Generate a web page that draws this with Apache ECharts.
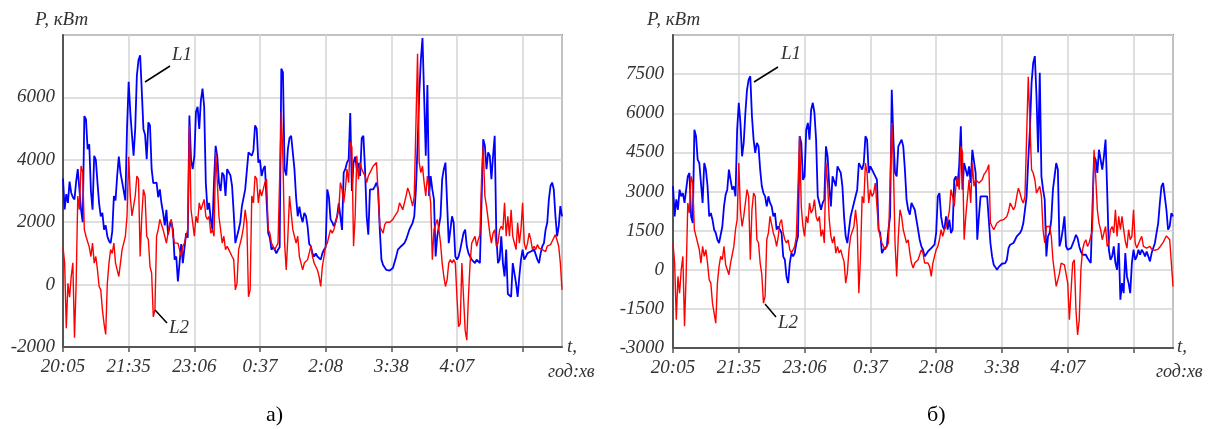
<!DOCTYPE html>
<html>
<head>
<meta charset="utf-8">
<script src="https://cdn.jsdelivr.net/npm/echarts@6/dist/echarts.min.js"></script>
<style>
  html, body { margin: 0; padding: 0; background: #fff; }
  #chart { width: 1214px; height: 429px; }
</style>
</head>
<body>
<div id="chart"></div>
<script>
// x: одна клітинка сітки = 1, крок вибірки 0.025
const STEP = 0.025;
const timeLabels = ['20:05', '21:35', '23:06', '0:37', '2:08', '3:38', '4:07', ''];

// графік а)
const L1a = [3400,2408,2900,2620,3300,2945,2800,2730,3300,3700,
  3700,2400,2000,5400,5300,4340,4500,3000,2400,4130,
  4000,3270,2600,2190,2300,1760,1900,1550,1400,1330,
  1700,2840,2700,3480,4100,3590,3300,3270,2700,4990,
  6500,5530,4800,4130,5000,6700,7200,7350,6200,4990,
  4800,4020,5200,5100,3700,3250,3300,3270,2800,3050,
  2600,2300,1900,2400,1600,1870,2000,1760,800,900,
  100,690,1300,690,700,1650,1500,5420,4000,3700,
  4100,5530,5700,4990,5900,6280,5700,3270,2400,2620,
  2100,1760,3300,4450,4100,3270,3000,3590,3500,2840,
  3700,3700,3500,3160,2300,1330,1300,1760,2000,2515,
  2500,3050,3000,4240,4200,4130,4300,5100,5000,3910,
  4000,3480,3700,3800,3800,1650,1500,1120,1200,1120,
  1000,1120,1200,6920,6800,3700,3500,4340,4700,4770,
  4800,3700,2800,2190,2500,2190,2000,2300,2200,1870,
  1300,1230,1000,900,1000,900,900,800,1000,1120,
  1200,3050,2800,2090,2000,1870,2000,2190,2600,2190,
  1750,3590,3700,3910,4000,5500,3000,3910,4100,3700,
  3900,3480,4700,4770,3700,2190,1600,3050,3050,3050,
  3150,3270,3050,1760,800,630,580,470,420,450,
  470,530,580,900,1120,1170,1230,1280,1330,1440,
  1500,1760,1870,1980,2190,3050,4450,6060,7200,7900,
  6060,4130,6400,2840,3480,3050,2730,900,1550,1550,
  2190,3380,3700,3910,3900,1330,1330,2190,1980,900,
  800,900,1120,1120,1650,1760,1230,1010,900,800,
  800,690,800,850,690,690,4660,4450,3700,4240,
  4130,3380,4130,4770,1550,690,800,1550,690,260,
  1120,-300,-280,-390,690,370,40,-390,260,800,
  1120,800,900,1010,1010,1060,1010,1120,1120,800,
  690,1010,1230,1330,1760,1980,2730,3160,3270,3050,
  2190,1550,1870,2515,2190];
const L2a = [1200,690,-1400,40,-400,260,700,-1700,0,2840,
  2400,3800,3600,1760,1550,1550,1200,900,1330,690,
  900,470,-60,-170,-800,-1250,-1600,40,690,1120,
  1000,1330,690,470,260,690,1120,1330,1550,2190,
  4100,2840,2200,2515,2840,3480,3380,900,2200,3050,
  2840,1550,1440,580,370,-1030,-820,1550,1760,2090,
  2140,1760,1550,1330,1650,1980,2090,1550,1330,1330,
  1330,1120,900,1230,1330,1550,1760,5100,2400,1980,
  1550,2190,1980,2620,2400,2400,2730,2190,2090,2190,
  1650,1760,1550,4240,3300,2190,1760,1330,1550,1120,
  1230,1120,1120,900,800,-170,40,1120,1330,1550,
  1870,2400,1980,-390,-170,2840,2620,3480,3380,2620,
  3050,2840,3050,3270,3380,1760,1650,1330,1330,1120,
  1230,1330,1330,5530,4000,1330,470,1550,2840,2300,
  1760,1550,1330,1550,900,690,470,690,690,800,
  1010,1230,900,690,700,470,260,-60,580,900,
  1230,1330,1550,1760,1650,1760,1980,2190,2400,3270,
  3050,2620,3050,3700,3270,4560,4400,1230,2200,4130,
  3380,3910,3700,3590,3480,3270,3480,3590,3640,3800,
  3800,3910,3970,1870,1760,1650,1920,2000,2000,2000,
  2060,2090,2190,2190,2350,2620,2515,2400,2400,2840,
  3100,2950,2730,2515,2840,2840,7400,3910,3590,3800,
  3270,2840,3480,3050,2620,800,1760,1760,2090,1760,
  1330,690,260,-60,150,690,800,690,800,690,
  -390,-1350,-1250,690,690,-1460,-1780,-390,690,1330,
  1440,1550,1230,1440,1600,3380,4450,2840,2515,2090,
  1650,1330,1650,1760,1230,1330,1760,1870,1760,2620,
  1550,2190,1550,2400,1550,1330,1120,1980,1330,1760,
  2620,1330,1120,1330,1650,1440,1120,1230,1120,1280,
  1170,1230,1120,1060,1060,1230,1170,1280,1390,1500,
  1600,1600,1230,690,-170];

// графік б)
const L1b = [3200,2045,2700,2300,3070,2815,2940,2560,3070,3580,
  3710,2045,1790,5370,5120,4220,4090,4090,2560,4090,
  3840,3200,2045,2175,1920,1535,1410,1150,1025,1025,
  1660,2430,2880,3070,3840,3450,3070,3200,2815,5370,
  6400,5630,4350,4860,6010,6900,7290,7420,5885,4990,
  4480,4860,4730,3840,3200,2940,2815,2430,2815,2560,
  2430,2045,2175,1535,1660,1535,1410,512,384,-256,
  -512,256,640,512,640,1025,1280,5120,4860,3450,
  3580,5370,5630,4990,6140,6400,6010,4990,2815,2560,
  2300,2560,2690,4730,4350,3200,2430,3580,3580,3200,
  3965,3840,3710,3200,2045,1280,1025,1535,2045,2300,
  2560,2815,3070,4090,4030,3840,4090,5120,4990,3710,
  3965,3840,3840,3580,3450,1535,1410,640,767,767,
  895,1535,2045,6900,5000,3710,3580,4730,4800,4990,
  4730,3840,2690,2300,2110,2560,2430,2300,2370,1535,
  1150,895,767,512,600,700,767,830,895,960,
  1410,2815,2940,2045,1660,1535,2045,1535,1920,1410,
  1535,3450,3580,3200,4000,5500,3070,4090,4160,3580,
  3965,3325,4600,4600,3710,1150,2045,2815,2750,2815,
  2880,2815,2750,1025,512,190,100,0,100,64,
  230,190,256,384,830,960,920,1025,1150,1280,
  1280,1410,1535,1790,1790,2815,4220,5370,7160,7930,
  8190,6650,4500,7550,3580,3070,2690,512,1280,1410,
  1920,3070,3580,4090,3840,895,1150,1535,2045,895,
  767,830,830,895,1150,1340,1215,895,700,575,
  575,575,450,450,256,190,4350,4220,3710,4600,
  4600,3840,4350,4990,3000,767,384,512,895,256,
  0,1025,-1150,-512,-900,640,-256,-512,-900,256,
  767,384,512,767,575,767,665,512,700,512,
  320,640,700,1025,1410,1790,2560,3200,3325,2815,
  2300,1535,1660,2175,2045];
const L2b = [1025,256,-1920,-256,-900,0,512,-2170,-200,2560,
  2175,3580,3325,1535,1280,1025,767,256,895,512,
  767,256,-384,-512,-1280,-1660,-2050,-512,128,512,
  384,895,190,0,-190,256,575,895,1535,1920,
  4090,2300,1660,2045,2560,3070,2815,384,2300,2940,
  2815,1150,1025,256,-190,-1280,-1023,1150,1410,2045,
  1980,1410,1215,895,1280,1790,1920,1410,1150,1025,
  1150,767,640,767,895,1280,1280,5120,2400,1660,
  1280,2045,1790,2560,2175,2300,2690,2045,1855,2045,
  1280,1535,1025,4090,3325,1920,1280,1025,1280,640,
  895,640,767,512,320,-512,-128,767,1280,1280,
  1660,2300,1660,-900,500,2815,2560,4090,3710,2560,
  3070,2815,2940,3325,3325,1535,1470,1025,1090,767,
  830,1025,1025,5630,4000,1025,-256,1280,2300,2045,
  1535,1280,1025,1150,640,256,64,256,190,384,
  450,767,640,256,320,256,128,-256,256,512,
  767,895,1150,1535,1280,1535,1660,1920,2240,3070,
  2815,2430,3200,3580,3070,4730,4500,1150,2045,2045,
  3450,2560,4090,3200,3450,3520,3325,3260,3450,3645,
  3735,3840,4030,1790,1660,1535,1600,1790,1820,1890,
  1920,1920,1980,2045,2240,2560,2430,2300,2430,2815,
  3130,2940,2690,2560,2815,2815,7400,5630,3840,3710,
  3450,2940,3070,3200,2815,1535,1025,1660,1660,1660,
  1280,384,-128,-640,-700,-128,256,256,190,256,
  -512,-1920,-1920,256,384,-1535,-2500,-1920,0,767,
  1025,1150,895,1025,1280,1535,4600,3580,2300,1790,
  1535,1150,1150,1660,895,1025,1535,1660,1410,2300,
  1280,2045,1535,2045,1535,1090,830,1535,1150,1280,
  2300,1025,830,895,1150,1280,895,830,830,830,
  895,790,830,740,665,790,870,830,1050,1180,
  1300,1300,1150,256,-640];

const toPairs = arr => arr.map((v, i) => [+(i * STEP).toFixed(3), v]);

const FONT = 'Liberation Serif';
const TXT = '#333';

const grids = [
  { left: 63, top: 35, width: 499, height: 312 },
  { left: 673, top: 35, width: 500, height: 313 }
];

const xAxisFor = idx => ({
  type: 'value', gridIndex: idx, min: 0, max: 7.6, interval: 1,
  axisLine: { show: true, onZero: false, lineStyle: { color: '#555', width: 2 } },
  axisTick: { show: true, length: 5, lineStyle: { color: '#555', width: 1.5 } },
  splitLine: { show: true, lineStyle: { color: '#d4d4d4', width: 1.5 } },
  axisLabel: {
    showMaxLabel: false, margin: 10,
    fontFamily: FONT, fontStyle: 'italic', fontSize: 19, color: TXT,
    formatter: v => timeLabels[Math.round(v)] || ''
  }
});

const yAxisFor = (idx, min, max, interval, margin) => ({
  type: 'value', gridIndex: idx, min: min, max: max, interval: interval,
  axisLine: { show: true, onZero: false, lineStyle: { color: '#555', width: 2 } },
  axisTick: { show: false },
  splitLine: { show: true, lineStyle: { color: '#d4d4d4', width: 1.5 } },
  axisLabel: {
    showMaxLabel: false, margin: margin,
    fontFamily: FONT, fontStyle: 'italic', fontSize: 19, color: TXT,
    formatter: v => String(v)
  }
});

const lineSeries = (data, idx, color, width, z) => ({
  type: 'line', xAxisIndex: idx, yAxisIndex: idx, data: toPairs(data),
  showSymbol: false, symbol: 'none', animation: false, z: z,
  lineStyle: { color: color, width: width }
});

const italic = (text, x, y, size) => ({
  type: 'text', left: x, top: y, z: 100,
  style: { text: text, fontFamily: FONT, fontStyle: 'italic', fontSize: size, fill: TXT }
});
const plain = (text, x, y, size) => ({
  type: 'text', left: x, top: y, z: 100,
  style: { text: text, fontFamily: FONT, fontSize: size, fill: '#000' }
});
const leader = (x1, y1, x2, y2) => ({
  type: 'line', z: 100,
  shape: { x1: x1, y1: y1, x2: x2, y2: y2 },
  style: { stroke: '#000', lineWidth: 1.5 }
});

const chart = echarts.init(document.getElementById('chart'), null, { renderer: 'canvas' });
chart.setOption({
  backgroundColor: '#fff',
  animation: false,
  grid: grids.map(g => Object.assign({ show: true, borderColor: '#8a8a8a', borderWidth: 2, backgroundColor: 'transparent' }, g)),
  xAxis: [xAxisFor(0), xAxisFor(1)],
  yAxis: [yAxisFor(0, -2000, 8000, 2000, 8), yAxisFor(1, -3000, 9000, 1500, 9)],
  series: [
    lineSeries(L1a, 0, '#0000ff', 1.8, 2),
    lineSeries(L2a, 0, '#ff0000', 1.4, 3),
    lineSeries(L1b, 1, '#0000ff', 1.8, 2),
    lineSeries(L2b, 1, '#ff0000', 1.4, 3)
  ],
  graphic: [
    italic('P, кВт', 35, 10, 19),
    italic('P, кВт', 647, 10, 19),
    italic('t,', 567, 337, 19),
    italic('год:хв', 548, 363, 18),
    italic('t,', 1177, 337, 19),
    italic('год:хв', 1156, 363, 18),
    italic('L1', 172, 45, 19),
    leader(145, 82, 170, 66),
    italic('L2', 169, 318, 19),
    leader(155, 310, 167, 323),
    italic('L1', 781, 44, 19),
    leader(754, 82, 778, 67),
    italic('L2', 778, 313, 19),
    leader(765, 304, 776, 317),
    plain('а)', 266, 404, 22),
    plain('б)', 927, 404, 22)
  ]
});
</script>
</body>
</html>
